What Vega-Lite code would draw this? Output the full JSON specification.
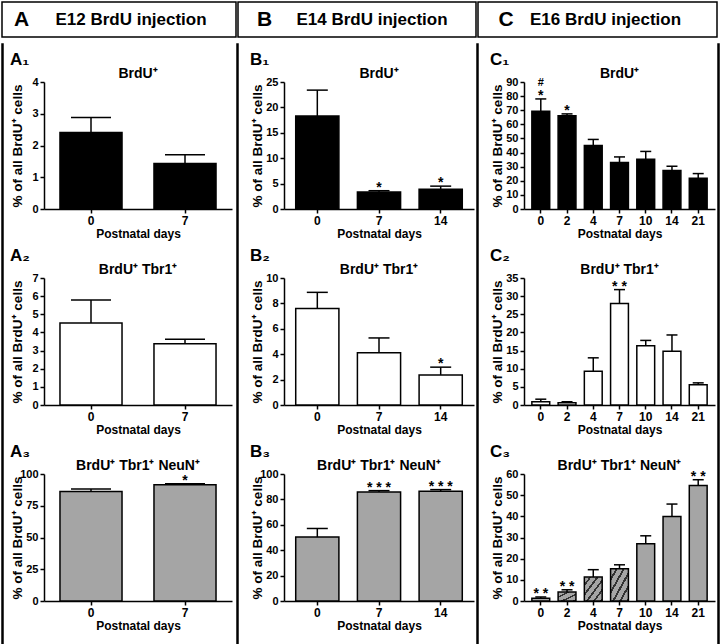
{
  "$schema": "https://vega.github.io/schema/vega-lite/v6.json",
  "padding": 1,
  "background": "white",
  "config": {
    "font": "Liberation Sans",
    "view": {"stroke": null},
    "title": {"fontWeight": "bold", "color": "#000", "font": "Liberation Sans"},
    "axis": {"domainColor": "#000", "domainWidth": 1.5, "tickColor": "#000", "tickWidth": 1.5, "tickSize": 4, "grid": false, "labelOverlap": false,
      "labelFontWeight": "bold", "labelColor": "#000", "labelFontSize": 11, "labelPadding": 2,
      "titleFontWeight": "bold", "titleColor": "#000", "titleFontSize": 13.5},
    "axisY": {"minExtent": 18, "maxExtent": 18, "titlePadding": 2},
    "axisX": {"labelFontSize": 12, "titlePadding": 2, "titleFontSize": 12, "labelAngle": 0}
  },
  "spacing": 0,
  "vconcat": [
    {
      "spacing": 0,
      "hconcat": [
        {"data": {"values": [{"letter": "A", "label": "E12 BrdU injection"}]}, "width": 234, "height": 35, "view": {"stroke": "#000", "strokeWidth": 1.5},
         "layer": [
           {"mark": {"type": "text", "align": "left", "dx": -105, "fontSize": 21, "fontWeight": "bold"}, "encoding": {"text": {"field": "letter"}}},
           {"mark": {"type": "text", "dx": 12, "fontSize": 17, "fontWeight": "bold"}, "encoding": {"text": {"field": "label"}}}
         ]},
        {"data": {"values": [{"letter": "B", "label": "E14 BrdU injection"}]}, "width": 238, "height": 35, "view": {"stroke": "#000", "strokeWidth": 1.5},
         "layer": [
           {"mark": {"type": "text", "align": "left", "dx": -100, "fontSize": 21, "fontWeight": "bold"}, "encoding": {"text": {"field": "letter"}}},
           {"mark": {"type": "text", "dx": 15, "fontSize": 17, "fontWeight": "bold"}, "encoding": {"text": {"field": "label"}}}
         ]},
        {"data": {"values": [{"letter": "C", "label": "E16 BrdU injection"}]}, "width": 239, "height": 35, "view": {"stroke": "#000", "strokeWidth": 1.5},
         "layer": [
           {"mark": {"type": "text", "align": "left", "dx": -99, "fontSize": 21, "fontWeight": "bold"}, "encoding": {"text": {"field": "letter"}}},
           {"mark": {"type": "text", "dx": 8, "fontSize": 17, "fontWeight": "bold"}, "encoding": {"text": {"field": "label"}}}
         ]}
      ]
    },
    {
      "spacing": 0,
      "hconcat": [
        {"data": {"values": [{}]}, "mark": {"type": "text", "text": ""}, "width": 1, "height": 602, "view": {"stroke": "#000", "strokeWidth": 1.5}},
        {"data": {"values": [{}]}, "mark": {"type": "text", "text": ""}, "width": 5, "height": 1},
        {
          "spacing": 1,
          "vconcat": [
            {"data": {"values": [{}]}, "mark": {"type": "text", "text": ""}, "width": 10, "height": 1},
            {
              "spacing": 8,
              "vconcat": [
                {"title": {"text": "A₁", "anchor": "start", "fontSize": 17, "offset": -2},
                 "vconcat": [{
                   "width": 188, "height": 127,
                   "title": {"text": "BrdU⁺", "anchor": "middle", "fontSize": 14, "offset": -5},
                   "data": {"values": [{"day": 0, "v": 2.41, "hi": 2.88, "sig": ""}, {"day": 7, "v": 1.43, "hi": 1.71, "sig": ""}]},
                   "encoding": {"x": {"field": "day", "type": "ordinal", "title": "Postnatal days", "scale": {"paddingInner": 0.34, "paddingOuter": 0.17}}},
                   "layer": [
                     {"mark": {"type": "bar", "fill": "#000", "stroke": "#000", "strokeWidth": 1.5}, "encoding": {"y": {"field": "v", "type": "quantitative", "title": "% of all BrdU⁺ cells", "scale": {"domain": [0, 4], "nice": false}, "axis": {"values": [0, 1, 2, 3, 4]}}}},
                     {"mark": {"type": "rule", "stroke": "#000", "strokeWidth": 1.5}, "encoding": {"y": {"field": "v", "type": "quantitative", "title": "% of all BrdU⁺ cells", "scale": {"domain": [0, 4], "nice": false}, "axis": {"values": [0, 1, 2, 3, 4]}}, "y2": {"field": "hi"}}},
                     {"mark": {"type": "tick", "color": "#000", "opacity": 1, "thickness": 1.5, "size": 40}, "encoding": {"y": {"field": "hi", "type": "quantitative", "title": "% of all BrdU⁺ cells", "scale": {"domain": [0, 4], "nice": false}, "axis": {"values": [0, 1, 2, 3, 4]}}}}
                   ]
                 }]},
                {"title": {"text": "A₂", "anchor": "start", "fontSize": 17, "offset": -2},
                 "vconcat": [{
                   "width": 188, "height": 127,
                   "title": {"text": "BrdU⁺ Tbr1⁺", "anchor": "middle", "fontSize": 14, "offset": -5},
                   "data": {"values": [{"day": 0, "v": 4.52, "hi": 5.79, "sig": ""}, {"day": 7, "v": 3.37, "hi": 3.63, "sig": ""}]},
                   "encoding": {"x": {"field": "day", "type": "ordinal", "title": "Postnatal days", "scale": {"paddingInner": 0.34, "paddingOuter": 0.17}}},
                   "layer": [
                     {"mark": {"type": "bar", "fill": "#fff", "stroke": "#000", "strokeWidth": 1.5}, "encoding": {"y": {"field": "v", "type": "quantitative", "title": "% of all BrdU⁺ cells", "scale": {"domain": [0, 7], "nice": false}, "axis": {"values": [0, 1, 2, 3, 4, 5, 6, 7]}}}},
                     {"mark": {"type": "rule", "stroke": "#000", "strokeWidth": 1.5}, "encoding": {"y": {"field": "v", "type": "quantitative", "title": "% of all BrdU⁺ cells", "scale": {"domain": [0, 7], "nice": false}, "axis": {"values": [0, 1, 2, 3, 4, 5, 6, 7]}}, "y2": {"field": "hi"}}},
                     {"mark": {"type": "tick", "color": "#000", "opacity": 1, "thickness": 1.5, "size": 40}, "encoding": {"y": {"field": "hi", "type": "quantitative", "title": "% of all BrdU⁺ cells", "scale": {"domain": [0, 7], "nice": false}, "axis": {"values": [0, 1, 2, 3, 4, 5, 6, 7]}}}}
                   ]
                 }]},
                {"title": {"text": "A₃", "anchor": "start", "fontSize": 17, "offset": -2},
                 "vconcat": [{
                   "width": 188, "height": 127,
                   "title": {"text": "BrdU⁺ Tbr1⁺ NeuN⁺", "anchor": "middle", "fontSize": 14, "offset": -5},
                   "data": {"values": [{"day": 0, "v": 86.3, "hi": 88.2, "sig": ""}, {"day": 7, "v": 91.5, "hi": 92.3, "sig": "*"}]},
                   "encoding": {"x": {"field": "day", "type": "ordinal", "title": "Postnatal days", "scale": {"paddingInner": 0.34, "paddingOuter": 0.17}}},
                   "layer": [
                     {"mark": {"type": "bar", "fill": "#a5a5a5", "stroke": "#000", "strokeWidth": 1.5}, "encoding": {"y": {"field": "v", "type": "quantitative", "title": "% of all BrdU⁺ cells", "scale": {"domain": [0, 100], "nice": false}, "axis": {"values": [0, 25, 50, 75, 100]}}}},
                     {"mark": {"type": "rule", "stroke": "#000", "strokeWidth": 1.5}, "encoding": {"y": {"field": "v", "type": "quantitative", "title": "% of all BrdU⁺ cells", "scale": {"domain": [0, 100], "nice": false}, "axis": {"values": [0, 25, 50, 75, 100]}}, "y2": {"field": "hi"}}},
                     {"mark": {"type": "tick", "color": "#000", "opacity": 1, "thickness": 1.5, "size": 40}, "encoding": {"y": {"field": "hi", "type": "quantitative", "title": "% of all BrdU⁺ cells", "scale": {"domain": [0, 100], "nice": false}, "axis": {"values": [0, 25, 50, 75, 100]}}}},
                     {"mark": {"type": "text", "fontSize": 14, "fontWeight": "bold", "baseline": "alphabetic", "dy": 1}, "encoding": {"y": {"field": "hi", "type": "quantitative", "title": "% of all BrdU⁺ cells", "scale": {"domain": [0, 100], "nice": false}, "axis": {"values": [0, 25, 50, 75, 100]}}, "text": {"field": "sig"}}}
                   ]
                 }]}
              ]
            }
          ]
        },
        {"data": {"values": [{}]}, "mark": {"type": "text", "text": ""}, "width": 4, "height": 1},
        {"data": {"values": [{}]}, "mark": {"type": "text", "text": ""}, "width": 1, "height": 602, "view": {"stroke": "#000", "strokeWidth": 1.5}},
        {"data": {"values": [{}]}, "mark": {"type": "text", "text": ""}, "width": 10, "height": 1},
        {
          "spacing": 1,
          "vconcat": [
            {"data": {"values": [{}]}, "mark": {"type": "text", "text": ""}, "width": 10, "height": 1},
            {
              "spacing": 8,
              "vconcat": [
                {"title": {"text": "B₁", "anchor": "start", "fontSize": 17, "offset": -2},
                 "vconcat": [{
                   "width": 190, "height": 127,
                   "title": {"text": "BrdU⁺", "anchor": "middle", "fontSize": 14, "offset": -5},
                   "data": {"values": [{"day": 0, "v": 18.3, "hi": 23.4, "sig": ""}, {"day": 7, "v": 3.35, "hi": 3.6, "sig": "*"}, {"day": 14, "v": 3.9, "hi": 4.5, "sig": "*"}]},
                   "encoding": {"x": {"field": "day", "type": "ordinal", "title": "Postnatal days", "scale": {"paddingInner": 0.3, "paddingOuter": 0.19}}},
                   "layer": [
                     {"mark": {"type": "bar", "fill": "#000", "stroke": "#000", "strokeWidth": 1.5}, "encoding": {"y": {"field": "v", "type": "quantitative", "title": "% of all BrdU⁺ cells", "scale": {"domain": [0, 25], "nice": false}, "axis": {"values": [0, 5, 10, 15, 20, 25]}}}},
                     {"mark": {"type": "rule", "stroke": "#000", "strokeWidth": 1.5}, "encoding": {"y": {"field": "v", "type": "quantitative", "title": "% of all BrdU⁺ cells", "scale": {"domain": [0, 25], "nice": false}, "axis": {"values": [0, 5, 10, 15, 20, 25]}}, "y2": {"field": "hi"}}},
                     {"mark": {"type": "tick", "color": "#000", "opacity": 1, "thickness": 1.5, "size": 21}, "encoding": {"y": {"field": "hi", "type": "quantitative", "title": "% of all BrdU⁺ cells", "scale": {"domain": [0, 25], "nice": false}, "axis": {"values": [0, 5, 10, 15, 20, 25]}}}},
                     {"mark": {"type": "text", "fontSize": 14, "fontWeight": "bold", "baseline": "alphabetic", "dy": 1}, "encoding": {"y": {"field": "hi", "type": "quantitative", "title": "% of all BrdU⁺ cells", "scale": {"domain": [0, 25], "nice": false}, "axis": {"values": [0, 5, 10, 15, 20, 25]}}, "text": {"field": "sig"}}}
                   ]
                 }]},
                {"title": {"text": "B₂", "anchor": "start", "fontSize": 17, "offset": -2},
                 "vconcat": [{
                   "width": 190, "height": 127,
                   "title": {"text": "BrdU⁺ Tbr1⁺", "anchor": "middle", "fontSize": 14, "offset": -5},
                   "data": {"values": [{"day": 0, "v": 7.6, "hi": 8.87, "sig": ""}, {"day": 7, "v": 4.12, "hi": 5.28, "sig": ""}, {"day": 14, "v": 2.37, "hi": 2.98, "sig": "*"}]},
                   "encoding": {"x": {"field": "day", "type": "ordinal", "title": "Postnatal days", "scale": {"paddingInner": 0.3, "paddingOuter": 0.19}}},
                   "layer": [
                     {"mark": {"type": "bar", "fill": "#fff", "stroke": "#000", "strokeWidth": 1.5}, "encoding": {"y": {"field": "v", "type": "quantitative", "title": "% of all BrdU⁺ cells", "scale": {"domain": [0, 10], "nice": false}, "axis": {"values": [0, 2, 4, 6, 8, 10]}}}},
                     {"mark": {"type": "rule", "stroke": "#000", "strokeWidth": 1.5}, "encoding": {"y": {"field": "v", "type": "quantitative", "title": "% of all BrdU⁺ cells", "scale": {"domain": [0, 10], "nice": false}, "axis": {"values": [0, 2, 4, 6, 8, 10]}}, "y2": {"field": "hi"}}},
                     {"mark": {"type": "tick", "color": "#000", "opacity": 1, "thickness": 1.5, "size": 21}, "encoding": {"y": {"field": "hi", "type": "quantitative", "title": "% of all BrdU⁺ cells", "scale": {"domain": [0, 10], "nice": false}, "axis": {"values": [0, 2, 4, 6, 8, 10]}}}},
                     {"mark": {"type": "text", "fontSize": 14, "fontWeight": "bold", "baseline": "alphabetic", "dy": 1}, "encoding": {"y": {"field": "hi", "type": "quantitative", "title": "% of all BrdU⁺ cells", "scale": {"domain": [0, 10], "nice": false}, "axis": {"values": [0, 2, 4, 6, 8, 10]}}, "text": {"field": "sig"}}}
                   ]
                 }]},
                {"title": {"text": "B₃", "anchor": "start", "fontSize": 17, "offset": -2},
                 "vconcat": [{
                   "width": 190, "height": 127,
                   "title": {"text": "BrdU⁺ Tbr1⁺ NeuN⁺", "anchor": "middle", "fontSize": 14, "offset": -5},
                   "data": {"values": [{"day": 0, "v": 50.3, "hi": 57.1, "sig": ""}, {"day": 7, "v": 85.9, "hi": 86.9, "sig": "* * *"}, {"day": 14, "v": 86.4, "hi": 87.7, "sig": "* * *"}]},
                   "encoding": {"x": {"field": "day", "type": "ordinal", "title": "Postnatal days", "scale": {"paddingInner": 0.3, "paddingOuter": 0.19}}},
                   "layer": [
                     {"mark": {"type": "bar", "fill": "#a5a5a5", "stroke": "#000", "strokeWidth": 1.5}, "encoding": {"y": {"field": "v", "type": "quantitative", "title": "% of all BrdU⁺ cells", "scale": {"domain": [0, 100], "nice": false}, "axis": {"values": [0, 20, 40, 60, 80, 100]}}}},
                     {"mark": {"type": "rule", "stroke": "#000", "strokeWidth": 1.5}, "encoding": {"y": {"field": "v", "type": "quantitative", "title": "% of all BrdU⁺ cells", "scale": {"domain": [0, 100], "nice": false}, "axis": {"values": [0, 20, 40, 60, 80, 100]}}, "y2": {"field": "hi"}}},
                     {"mark": {"type": "tick", "color": "#000", "opacity": 1, "thickness": 1.5, "size": 21}, "encoding": {"y": {"field": "hi", "type": "quantitative", "title": "% of all BrdU⁺ cells", "scale": {"domain": [0, 100], "nice": false}, "axis": {"values": [0, 20, 40, 60, 80, 100]}}}},
                     {"mark": {"type": "text", "fontSize": 14, "fontWeight": "bold", "baseline": "alphabetic", "dy": 1}, "encoding": {"y": {"field": "hi", "type": "quantitative", "title": "% of all BrdU⁺ cells", "scale": {"domain": [0, 100], "nice": false}, "axis": {"values": [0, 20, 40, 60, 80, 100]}}, "text": {"field": "sig"}}}
                   ]
                 }]}
              ]
            }
          ]
        },
        {"data": {"values": [{}]}, "mark": {"type": "text", "text": ""}, "width": 2, "height": 1},
        {"data": {"values": [{}]}, "mark": {"type": "text", "text": ""}, "width": 1, "height": 602, "view": {"stroke": "#000", "strokeWidth": 1.5}},
        {"data": {"values": [{}]}, "mark": {"type": "text", "text": ""}, "width": 10, "height": 1},
        {
          "spacing": 1,
          "vconcat": [
            {"data": {"values": [{}]}, "mark": {"type": "text", "text": ""}, "width": 10, "height": 1},
            {
              "spacing": 8,
              "vconcat": [
                {"title": {"text": "C₁", "anchor": "start", "fontSize": 17, "offset": -2},
                 "vconcat": [{
                   "width": 191, "height": 127,
                   "title": {"text": "BrdU⁺", "anchor": "middle", "fontSize": 14, "offset": -5},
                   "data": {"values": [
                     {"day": 0, "v": 69.3, "hi": 78, "sig": "*", "hash": "#"},
                     {"day": 2, "v": 66, "hi": 67.4, "sig": "*", "hash": ""},
                     {"day": 4, "v": 45, "hi": 49.3, "sig": "", "hash": ""},
                     {"day": 7, "v": 32.9, "hi": 36.9, "sig": "", "hash": ""},
                     {"day": 10, "v": 35.2, "hi": 40.8, "sig": "", "hash": ""},
                     {"day": 14, "v": 27.2, "hi": 30.3, "sig": "", "hash": ""},
                     {"day": 21, "v": 21.8, "hi": 25.1, "sig": "", "hash": ""}
                   ]},
                   "encoding": {"x": {"field": "day", "type": "ordinal", "title": "Postnatal days", "scale": {"paddingInner": 0.32, "paddingOuter": 0.3}}},
                   "layer": [
                     {"mark": {"type": "bar", "fill": "#000", "stroke": "#000", "strokeWidth": 1.5}, "encoding": {"y": {"field": "v", "type": "quantitative", "title": "% of all BrdU⁺ cells", "scale": {"domain": [0, 90], "nice": false}, "axis": {"values": [0, 10, 20, 30, 40, 50, 60, 70, 80, 90]}}}},
                     {"mark": {"type": "rule", "stroke": "#000", "strokeWidth": 1.5}, "encoding": {"y": {"field": "v", "type": "quantitative", "title": "% of all BrdU⁺ cells", "scale": {"domain": [0, 90], "nice": false}, "axis": {"values": [0, 10, 20, 30, 40, 50, 60, 70, 80, 90]}}, "y2": {"field": "hi"}}},
                     {"mark": {"type": "tick", "color": "#000", "opacity": 1, "thickness": 1.5, "size": 11}, "encoding": {"y": {"field": "hi", "type": "quantitative", "title": "% of all BrdU⁺ cells", "scale": {"domain": [0, 90], "nice": false}, "axis": {"values": [0, 10, 20, 30, 40, 50, 60, 70, 80, 90]}}}},
                     {"mark": {"type": "text", "fontSize": 14, "fontWeight": "bold", "baseline": "alphabetic", "dy": 1}, "encoding": {"y": {"field": "hi", "type": "quantitative", "title": "% of all BrdU⁺ cells", "scale": {"domain": [0, 90], "nice": false}, "axis": {"values": [0, 10, 20, 30, 40, 50, 60, 70, 80, 90]}}, "text": {"field": "sig"}}},
                     {"mark": {"type": "text", "fontSize": 11, "fontWeight": "bold", "baseline": "alphabetic", "dy": -13}, "encoding": {"y": {"field": "hi", "type": "quantitative", "title": "% of all BrdU⁺ cells", "scale": {"domain": [0, 90], "nice": false}, "axis": {"values": [0, 10, 20, 30, 40, 50, 60, 70, 80, 90]}}, "text": {"field": "hash"}}}
                   ]
                 }]},
                {"title": {"text": "C₂", "anchor": "start", "fontSize": 17, "offset": -2},
                 "vconcat": [{
                   "width": 191, "height": 127,
                   "title": {"text": "BrdU⁺ Tbr1⁺", "anchor": "middle", "fontSize": 14, "offset": -5},
                   "data": {"values": [
                     {"day": 0, "v": 0.9, "hi": 1.6, "sig": ""},
                     {"day": 2, "v": 0.65, "hi": 0.9, "sig": ""},
                     {"day": 4, "v": 9.3, "hi": 13.0, "sig": ""},
                     {"day": 7, "v": 28.0, "hi": 31.8, "sig": "* *"},
                     {"day": 10, "v": 16.3, "hi": 17.8, "sig": ""},
                     {"day": 14, "v": 14.8, "hi": 19.3, "sig": ""},
                     {"day": 21, "v": 5.6, "hi": 6.1, "sig": ""}
                   ]},
                   "encoding": {"x": {"field": "day", "type": "ordinal", "title": "Postnatal days", "scale": {"paddingInner": 0.32, "paddingOuter": 0.3}}},
                   "layer": [
                     {"mark": {"type": "bar", "fill": "#fff", "stroke": "#000", "strokeWidth": 1.5}, "encoding": {"y": {"field": "v", "type": "quantitative", "title": "% of all BrdU⁺ cells", "scale": {"domain": [0, 35], "nice": false}, "axis": {"values": [0, 5, 10, 15, 20, 25, 30, 35]}}}},
                     {"mark": {"type": "rule", "stroke": "#000", "strokeWidth": 1.5}, "encoding": {"y": {"field": "v", "type": "quantitative", "title": "% of all BrdU⁺ cells", "scale": {"domain": [0, 35], "nice": false}, "axis": {"values": [0, 5, 10, 15, 20, 25, 30, 35]}}, "y2": {"field": "hi"}}},
                     {"mark": {"type": "tick", "color": "#000", "opacity": 1, "thickness": 1.5, "size": 11}, "encoding": {"y": {"field": "hi", "type": "quantitative", "title": "% of all BrdU⁺ cells", "scale": {"domain": [0, 35], "nice": false}, "axis": {"values": [0, 5, 10, 15, 20, 25, 30, 35]}}}},
                     {"mark": {"type": "text", "fontSize": 14, "fontWeight": "bold", "baseline": "alphabetic", "dy": 1}, "encoding": {"y": {"field": "hi", "type": "quantitative", "title": "% of all BrdU⁺ cells", "scale": {"domain": [0, 35], "nice": false}, "axis": {"values": [0, 5, 10, 15, 20, 25, 30, 35]}}, "text": {"field": "sig"}}}
                   ]
                 }]},
                {"title": {"text": "C₃", "anchor": "start", "fontSize": 17, "offset": -2},
                 "vconcat": [{
                   "width": 191, "height": 127,
                   "title": {"text": "BrdU⁺ Tbr1⁺ NeuN⁺", "anchor": "middle", "fontSize": 14, "offset": -5},
                   "data": {"values": [
                     {"day": 0, "v": 1.3, "hi": 1.9, "sig": "* *"},
                     {"day": 2, "v": 4.2, "hi": 5.3, "sig": "* *"},
                     {"day": 4, "v": 11.3, "hi": 14.8, "sig": ""},
                     {"day": 7, "v": 15.2, "hi": 17.1, "sig": ""},
                     {"day": 10, "v": 27.0, "hi": 30.8, "sig": ""},
                     {"day": 14, "v": 39.9, "hi": 45.8, "sig": ""},
                     {"day": 21, "v": 54.6, "hi": 57.3, "sig": "* *"}
                   ]},
                   "encoding": {"x": {"field": "day", "type": "ordinal", "title": "Postnatal days", "scale": {"paddingInner": 0.32, "paddingOuter": 0.3}}},
                   "layer": [
                     {"mark": {"type": "bar", "stroke": "#000", "strokeWidth": 1.5},
                      "encoding": {
                        "y": {"field": "v", "type": "quantitative", "title": "% of all BrdU⁺ cells", "scale": {"domain": [0, 60], "nice": false}, "axis": {"values": [0, 10, 20, 30, 40, 50, 60]}},
                        "fill": {
                          "condition": [
                            {"test": "datum.day === 2", "value": {"gradient": "linear", "x1": 0, "y1": 0, "x2": 1, "y2": 1, "stops": [
                              {"offset": 0, "color": "#a5a5a5"}, {"offset": 0.2333, "color": "#a5a5a5"}, {"offset": 0.2333, "color": "#333333"}, {"offset": 0.3333, "color": "#333333"},
                              {"offset": 0.3333, "color": "#a5a5a5"}, {"offset": 0.5667, "color": "#a5a5a5"}, {"offset": 0.5667, "color": "#333333"}, {"offset": 0.6667, "color": "#333333"},
                              {"offset": 0.6667, "color": "#a5a5a5"}, {"offset": 0.9, "color": "#a5a5a5"}, {"offset": 0.9, "color": "#333333"}, {"offset": 1, "color": "#333333"}]}},
                            {"test": "datum.day === 4 || datum.day === 7", "value": {"gradient": "linear", "x1": 0, "y1": 0, "x2": 1, "y2": 1, "stops": [
                              {"offset": 0, "color": "#a5a5a5"}, {"offset": 0.14, "color": "#a5a5a5"}, {"offset": 0.14, "color": "#333333"}, {"offset": 0.2, "color": "#333333"},
                              {"offset": 0.2, "color": "#a5a5a5"}, {"offset": 0.34, "color": "#a5a5a5"}, {"offset": 0.34, "color": "#333333"}, {"offset": 0.4, "color": "#333333"},
                              {"offset": 0.4, "color": "#a5a5a5"}, {"offset": 0.54, "color": "#a5a5a5"}, {"offset": 0.54, "color": "#333333"}, {"offset": 0.6, "color": "#333333"},
                              {"offset": 0.6, "color": "#a5a5a5"}, {"offset": 0.74, "color": "#a5a5a5"}, {"offset": 0.74, "color": "#333333"}, {"offset": 0.8, "color": "#333333"},
                              {"offset": 0.8, "color": "#a5a5a5"}, {"offset": 0.94, "color": "#a5a5a5"}, {"offset": 0.94, "color": "#333333"}, {"offset": 1, "color": "#333333"}]}}
                          ],
                          "value": "#a5a5a5"
                        }
                      }},
                     {"mark": {"type": "rule", "stroke": "#000", "strokeWidth": 1.5}, "encoding": {"y": {"field": "v", "type": "quantitative", "title": "% of all BrdU⁺ cells", "scale": {"domain": [0, 60], "nice": false}, "axis": {"values": [0, 10, 20, 30, 40, 50, 60]}}, "y2": {"field": "hi"}}},
                     {"mark": {"type": "tick", "color": "#000", "opacity": 1, "thickness": 1.5, "size": 11}, "encoding": {"y": {"field": "hi", "type": "quantitative", "title": "% of all BrdU⁺ cells", "scale": {"domain": [0, 60], "nice": false}, "axis": {"values": [0, 10, 20, 30, 40, 50, 60]}}}},
                     {"mark": {"type": "text", "fontSize": 14, "fontWeight": "bold", "baseline": "alphabetic", "dy": 1}, "encoding": {"y": {"field": "hi", "type": "quantitative", "title": "% of all BrdU⁺ cells", "scale": {"domain": [0, 60], "nice": false}, "axis": {"values": [0, 10, 20, 30, 40, 50, 60]}}, "text": {"field": "sig"}}}
                   ]
                 }]}
              ]
            }
          ]
        },
        {"data": {"values": [{}]}, "mark": {"type": "text", "text": ""}, "width": 2, "height": 1},
        {"data": {"values": [{}]}, "mark": {"type": "text", "text": ""}, "width": 1, "height": 602, "view": {"stroke": "#000", "strokeWidth": 1.5}}
      ]
    },
    {"data": {"values": [{}]}, "mark": {"type": "text", "text": ""}, "width": 715, "height": 1, "view": {"stroke": "#000", "strokeWidth": 1.5}}
  ]
}
